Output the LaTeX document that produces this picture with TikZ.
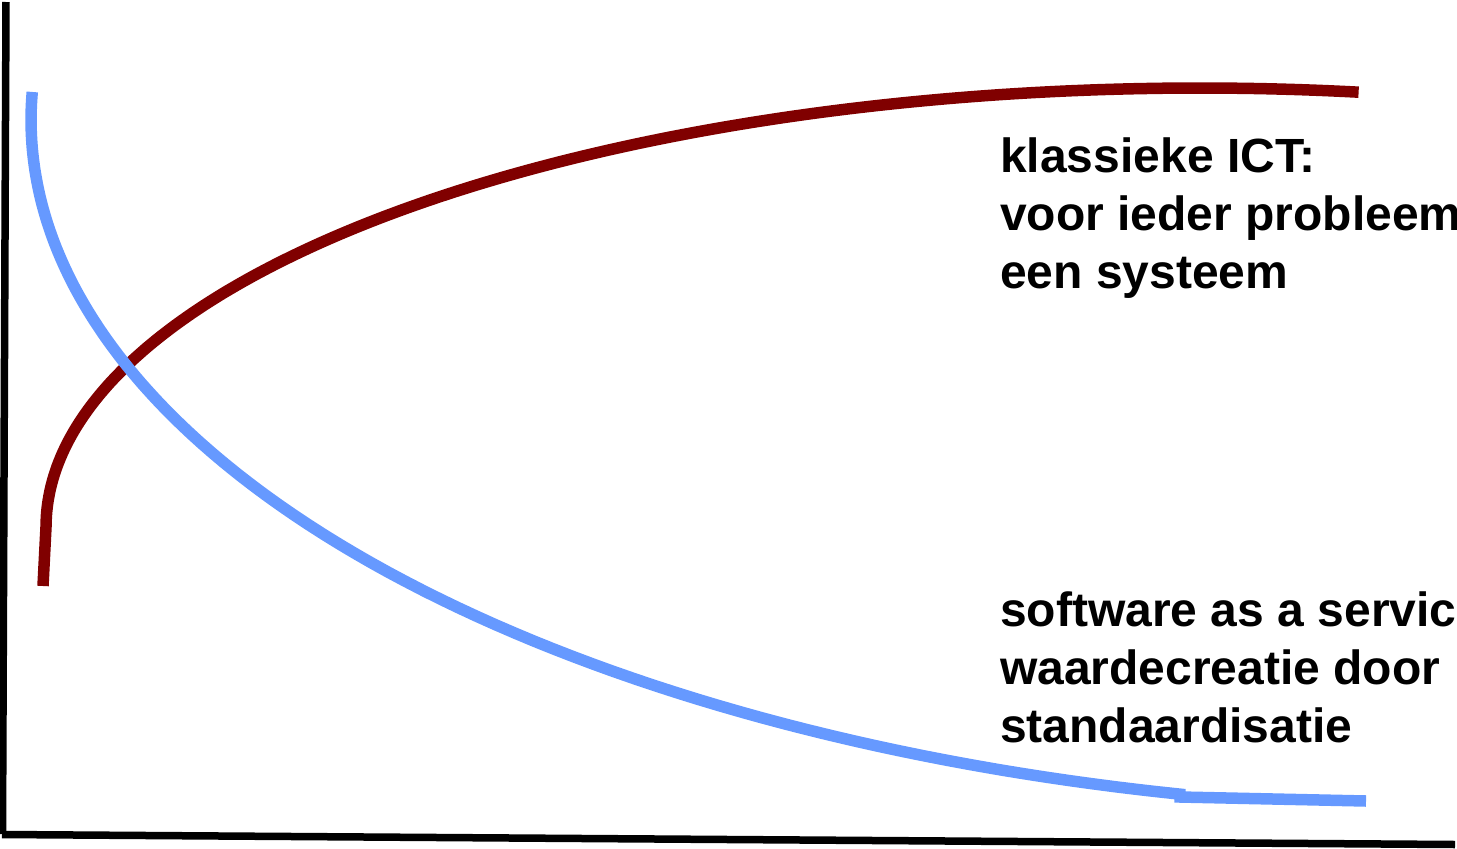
\documentclass[tikz,border=0pt]{standalone}
\usepackage{fontspec}
\setmainfont{Liberation Sans}
\definecolor{ictred}{RGB}{128,0,0}
\definecolor{saasblue}{RGB}{102,153,255}
\begin{document}
\begin{tikzpicture}[x=1pt,y=-1pt,
  axisline/.style={line width=7.5pt,black},
  curveline/.style={line width=11.5pt},
  lbl/.style={anchor=base west,inner sep=0pt,font=\fontsize{48}{58}\selectfont\bfseries}]
\useasboundingbox (0,0) rectangle (1457,849);
% axes
\draw[axisline] (6,2) -- (2.5,834);
\draw[axisline] (2,834.5) -- (1455,844.5);
% red curve (klassieke ICT): elliptical arc
\draw[curveline,ictred] (43,586) -- (46,527)
  -- plot[domain=0:97.9,samples=160,smooth] ({1200-1154*cos(\x)},{527-439*sin(\x)});
% blue curve (software as a service): elliptical arc + straight tail
\draw[curveline,saasblue]
  plot[domain=-2.33:77.7,samples=160,smooth] ({1491-1460*cos(\x)},{120+690*sin(\x)})
  -- (1180,797) -- (1366,801);
% labels
\node[lbl] (kl1) at (1000,172) {klassieke ICT:};
\node[lbl] (kl2) at (1000,230) {voor ieder probleem};
\node[lbl] (kl3) at (1000,288) {een systeem};
\node[lbl] (sa1) at (1000,626) {software as a service};
\node[lbl] (sa2) at (1000,684) {waardecreatie door};
\node[lbl] (sa3) at (1000,742) {standaardisatie};
\end{tikzpicture}
\end{document}
